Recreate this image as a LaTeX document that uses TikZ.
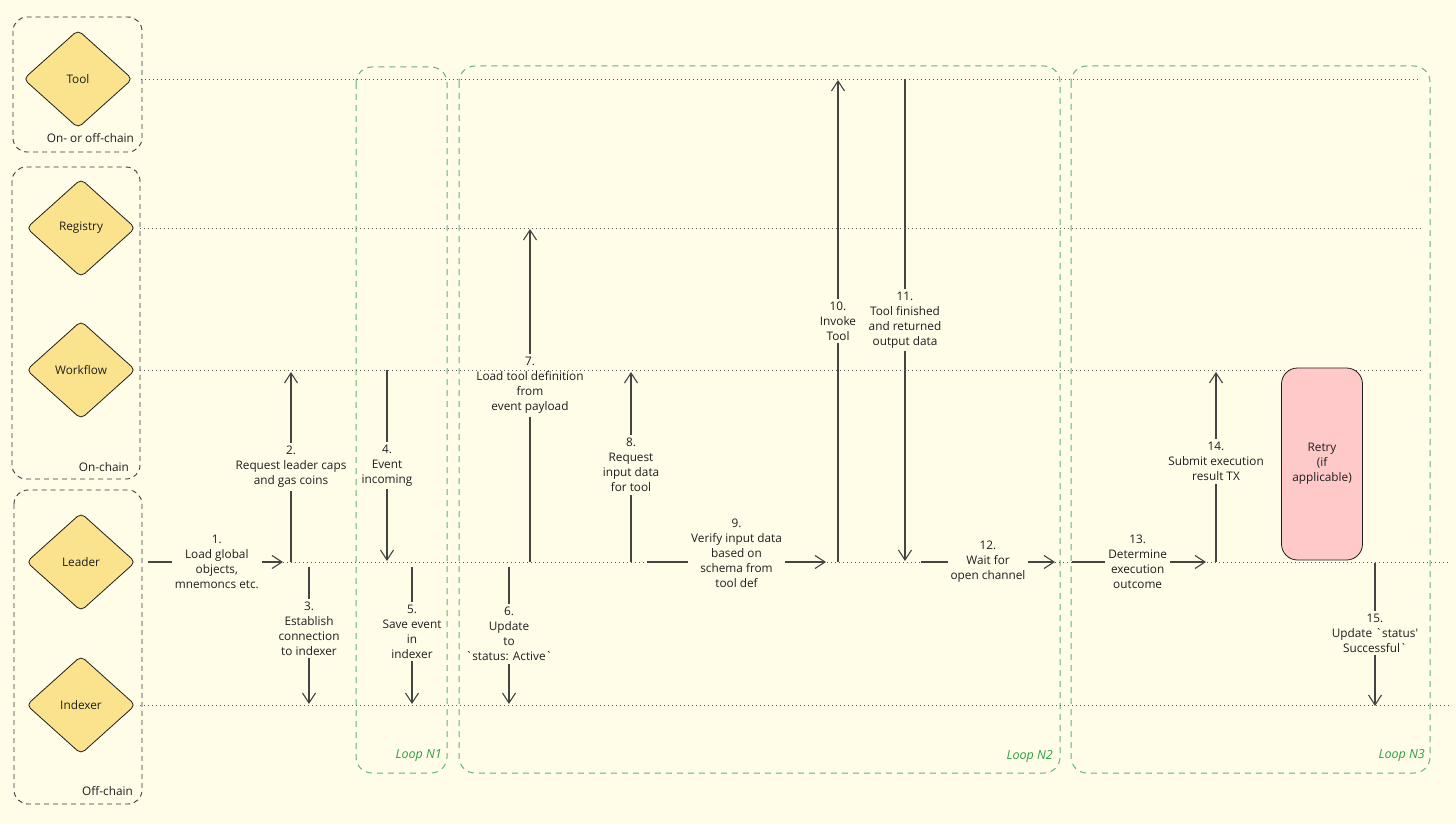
\documentclass[tikz,border=0pt]{standalone}
\usepackage{fontspec}
\setmainfont{Open Sans}
\usetikzlibrary{shapes.geometric,arrows.meta}
\definecolor{bg}{HTML}{FFFCE8}
\definecolor{ink}{HTML}{1E1E1E}
\definecolor{actorfill}{HTML}{FBE28C}
\definecolor{retryfill}{HTML}{FFC9C9}
\definecolor{loopgreen}{HTML}{2F9E44}
\definecolor{lanegray}{HTML}{555555}
\definecolor{grpgray}{HTML}{3A3A3A}
\definecolor{arrgray}{HTML}{444444}
\newcommand{\gr}{\textasciigrave}
\begin{document}
\begin{tikzpicture}[x=1pt,y=-1pt,
  lane/.style={draw=lanegray, line width=0.9pt, dash pattern=on 1pt off 3pt},
  grp/.style={draw=grpgray, line width=0.9pt, dash pattern=on 5pt off 4pt, rounded corners=14pt},
  loopbox/.style={draw=loopgreen!75, line width=1pt, dash pattern=on 6pt off 5pt, rounded corners=16pt},
  actor/.style={diamond, draw=ink, fill=actorfill, line width=0.8pt, minimum width=109pt, minimum height=98pt, inner sep=0pt, rounded corners=5pt, font=\fontsize{11.8}{14}\selectfont, text=ink},
  arr/.style={draw=arrgray, line width=1.1pt, -{Straight Barb[length=10pt,width=13pt]}},
  lbl/.style={fill=bg, align=center, inner sep=3pt, font=\fontsize{11.8}{15}\selectfont, text=ink},
  grplbl/.style={anchor=east, font=\fontsize{11.8}{14}\selectfont, text=ink, inner sep=0pt},
  looplbl/.style={anchor=east, font=\itshape\fontsize{12.5}{14}\selectfont, text=loopgreen, inner sep=0pt},
  retry/.style={draw=ink, fill=retryfill, line width=0.8pt, rounded corners=16pt, minimum width=81pt, minimum height=192pt, align=center, font=\fontsize{11.8}{15}\selectfont, text=ink}
]
\fill[bg] (0,0) rectangle (1456,824);
\useasboundingbox (0,0) rectangle (1456,824);

% group boxes
\draw[grp] (13,17) rectangle (142,152);
\draw[grp] (12,167) rectangle (140,479);
\draw[grp] (14,490) rectangle (142,804);
\node[grplbl] (lblTool) at (134,138) {On- or off-chain};
\node[grplbl] (lblOn) at (129,467) {On-chain};
\node[grplbl] (lblOff) at (133,791) {Off-chain};

% loop boxes
\draw[loopbox] (356,67) rectangle (447,773);
\draw[loopbox] (459,66) rectangle (1060,773);
\draw[loopbox] (1071,66) rectangle (1430,773);
\node[looplbl] (loop1) at (442,756) {Loop N1};
\node[looplbl] (loop2) at (1053,756) {Loop N2};
\node[looplbl] (loop3) at (1425,755) {Loop N3};

% actors
\node[actor] (tool) at (78,79) {Tool};
\node[actor] (registry) at (81,228) {Registry};
\node[actor] (workflow) at (81,370) {Workflow};
\node[actor] (leader) at (81,562) {Leader};
\node[actor] (indexer) at (81,705) {Indexer};

% lane ends
\coordinate (toolEnd) at (1420,79);
\coordinate (regEnd) at (1420,228);
\coordinate (wfEnd) at (1420,370);
\coordinate (leadStart) at (283,562);
\coordinate (leadEnd) at (1450,562);
\coordinate (idxEnd) at (1450,705);

% lower lanes
\draw[lane] (leadStart) -- (leadEnd);
\draw[lane, shorten <=4pt] (indexer.east) -- (idxEnd);

% connector coordinates
\coordinate (a2s) at (291,562);  \coordinate (a2e) at (291,372);
\coordinate (a3s) at (309,567);  \coordinate (a3e) at (309,704);
\coordinate (a4s) at (387,370);  \coordinate (a4e) at (387,561);
\coordinate (a5s) at (412,567);  \coordinate (a5e) at (412,704);
\coordinate (a6s) at (509,567);  \coordinate (a6e) at (509,704);
\coordinate (a7s) at (530,562);  \coordinate (a7e) at (530,229);
\coordinate (a8s) at (631,562);  \coordinate (a8e) at (631,372);
\coordinate (a9s) at (647,562);  \coordinate (a9e) at (826,562);
\coordinate (a10s) at (838,562); \coordinate (a10e) at (838,80);
\coordinate (a11s) at (905,79);  \coordinate (a11e) at (905,561);
\coordinate (a12s) at (921,562); \coordinate (a12e) at (1055,562);
\coordinate (a13s) at (1072,562); \coordinate (a13e) at (1206,562);
\coordinate (a14s) at (1216,562); \coordinate (a14e) at (1216,372);
\coordinate (a15s) at (1375,563); \coordinate (a15e) at (1375,706);

% connectors
\draw[arr, shorten <=12pt] (leader.east) -- node[lbl, pos=0.55] (l1) {1.\\Load global\\objects,\\mnemoncs etc.} (leadStart);
\draw[arr] (a2s) -- node[lbl, pos=0.5] (l2) {2.\\Request leader caps\\and gas coins} (a2e);
\draw[arr] (a3s) -- node[lbl, pos=0.45] (l3) {3.\\Establish\\connection\\to indexer} (a3e);
\draw[arr] (a4s) -- node[lbl, pos=0.5] (l4) {4.\\Event\\incoming} (a4e);
\draw[arr] (a5s) -- node[lbl, pos=0.47] (l5) {5.\\Save event\\in\\indexer} (a5e);
\draw[arr] (a6s) -- node[lbl, pos=0.49] (l6) {6.\\Update\\to\\\gr status: Active\gr} (a6e);
\draw[arr] (a7s) -- node[lbl, pos=0.53] (l7) {7.\\Load tool definition\\from\\event payload} (a7e);
\draw[arr] (a8s) -- node[lbl, pos=0.51] (l8) {8.\\Request\\input data\\for tool} (a8e);
\draw[arr] (a9s) -- node[lbl, pos=0.5, yshift=9pt] (l9) {9.\\Verify input data\\based on\\schema from\\tool def} (a9e);
\draw[arr] (a10s) -- node[lbl, pos=0.5] (l10) {10.\\Invoke\\Tool} (a10e);
\draw[arr] (a11s) -- node[lbl, pos=0.5] (l11) {11.\\Tool finished\\and returned\\output data} (a11e);
\draw[arr] (a12s) -- node[lbl, pos=0.5] (l12) {12.\\Wait for\\open channel} (a12e);
\draw[arr] (a13s) -- node[lbl, pos=0.49] (l13) {13.\\Determine\\execution\\outcome} (a13e);
\draw[arr] (a14s) -- node[lbl, pos=0.53] (l14) {14.\\Submit execution\\result TX} (a14e);
\draw[arr] (a15s) -- node[lbl, pos=0.49] (l15) {15.\\Update \gr status\textquotesingle\\Successful\gr} (a15e);

% upper lanes
\draw[lane, shorten <=8pt] (tool.east) -- (toolEnd);
\draw[lane, shorten <=4pt] (registry.east) -- (regEnd);
\draw[lane, shorten <=4pt] (workflow.east) -- (wfEnd);

% retry
\node[retry] (retry) at (1322,464) {Retry\\(if\\applicable)};
\end{tikzpicture}
\end{document}
